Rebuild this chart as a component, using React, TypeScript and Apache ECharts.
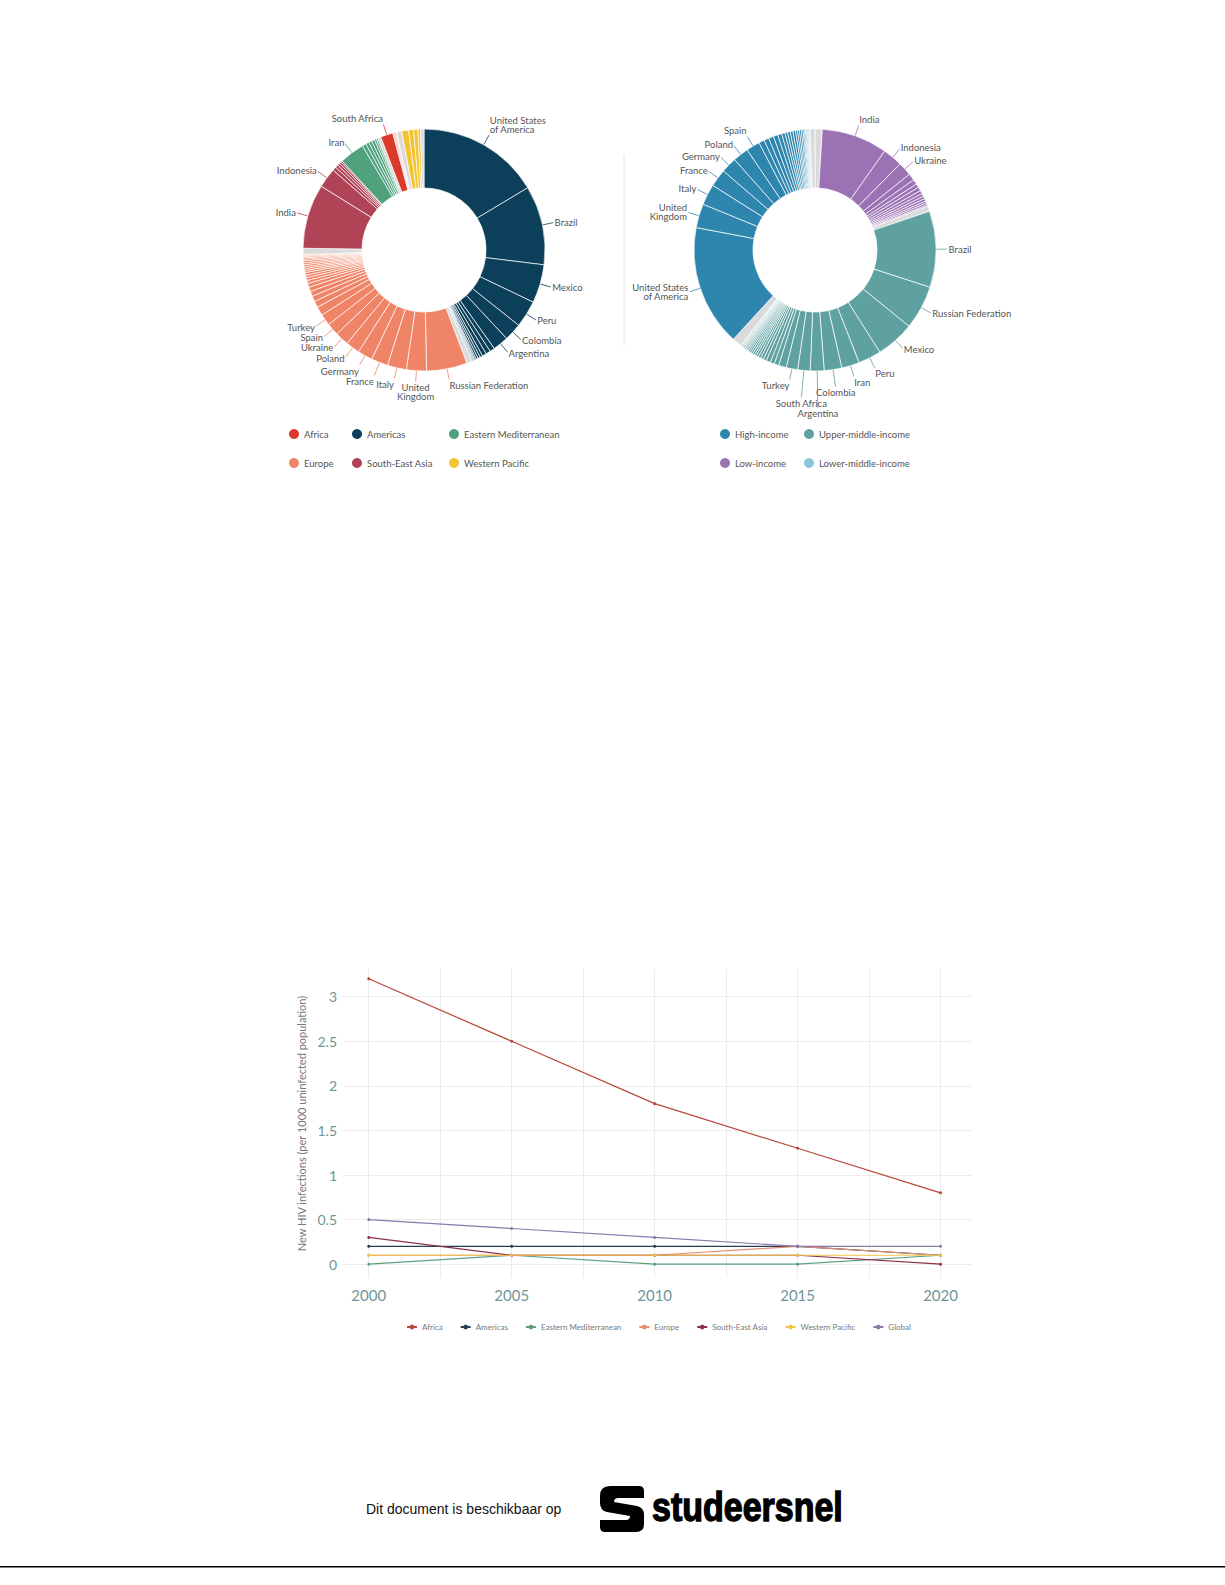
import React, { useEffect, useRef } from 'react';
import * as echarts from 'echarts';

// ---------- Line chart data ----------
const years = [2000, 2005, 2010, 2015, 2020];
const africaRate = [3.2, 2.5, 1.8, 1.3, 0.8];
const americasRate = [0.2, 0.2, 0.2, 0.2, 0.1];
const eastMedRate = [0.0, 0.1, 0.0, 0.0, 0.1];
const europeRate = [0.1, 0.1, 0.1, 0.2, 0.1];
const seAsiaRate = [0.3, 0.1, 0.1, 0.1, 0.0];
const westPacRate = [0.1, 0.1, 0.1, 0.1, 0.1];
const globalRate = [0.5, 0.4, 0.3, 0.2, 0.2];
const xLabelValues = [2000, 2005, 2010, 2015, 2020];
const xGridValues = [2000, 2002.5, 2005, 2007.5, 2010, 2012.5, 2015, 2017.5, 2020];
const yTickValues = [0, 0.5, 1, 1.5, 2, 2.5, 3];

const lineSeriesNames = ['Africa', 'Americas', 'Eastern Mediterranean', 'Europe', 'South-East Asia', 'Western Pacific', 'Global'];
const lineSeriesValues = [africaRate, americasRate, eastMedRate, europeRate, seAsiaRate, westPacRate, globalRate];
const lineColors = ['#b8473c', '#243c57', '#5c9f7c', '#e68d6f', '#8d3046', '#efc54c', '#8c78aa'];

// ---------- Left donut: by WHO region ----------
const regionColors: Record<string, string> = {
  'Africa': '#d93a2c',
  'Americas': '#0c3f59',
  'Eastern Mediterranean': '#4fa27d',
  'Europe': '#f08466',
  'South-East Asia': '#b04456',
  'Western Pacific': '#f3c332',
  'Other': '#dadada',
};

const leftCountries = [
  'United States of America', 'Brazil', 'Mexico', 'Peru', 'Colombia', 'Argentina', 'Chile', 'Canada', 'Ecuador', 'Bolivia', 'Paraguay', 'Guatemala', 'Honduras', 'Cuba', 'Costa Rica', 'Panama', 'Venezuela',
  'Other',
  'Russian Federation', 'United Kingdom', 'Italy', 'France', 'Germany', 'Poland', 'Ukraine', 'Spain', 'Turkey', 'Romania', 'Hungary', 'Czechia', 'Bulgaria', 'Belgium', 'Greece', 'Portugal', 'Netherlands', 'Kazakhstan', 'Slovakia', 'Sweden', 'Georgia', 'Serbia', 'Austria', 'Croatia', 'Bosnia and Herzegovina', 'Switzerland', 'Moldova', 'Israel', 'Lithuania', 'Belarus',
  'Other',
  'India', 'Indonesia', 'Bangladesh', 'Thailand', 'Myanmar', 'Sri Lanka', 'Nepal',
  'Iran', 'Pakistan', 'Tunisia', 'Iraq', 'Egypt', 'Morocco', 'Jordan',
  'Other',
  'South Africa', 'Ethiopia', 'Algeria', 'Kenya', 'Zimbabwe', 'Zambia',
  'Other',
  'Philippines', 'Vietnam', 'Malaysia', 'Japan',
  'Other',
];
const leftRegions = [
  ...Array(17).fill('Americas'),
  'Other',
  ...Array(30).fill('Europe'),
  'Other',
  ...Array(7).fill('South-East Asia'),
  ...Array(7).fill('Eastern Mediterranean'),
  'Other',
  ...Array(6).fill('Africa'),
  'Other',
  ...Array(4).fill('Western Pacific'),
  'Other',
];
const leftValues = [
  968, 623, 303, 213, 139, 123, 39, 36, 33, 21, 18, 16, 10, 8, 7, 7, 6,
  41,
  320, 158, 150, 132, 118, 110, 107, 98, 90, 70, 50, 44, 40, 35, 30, 24, 23, 20, 20, 16, 16, 15, 15, 15, 15, 13, 11, 10, 8, 7,
  49,
  508, 156, 30, 23, 20, 16, 11,
  197, 30, 26, 25, 23, 16, 13,
  25,
  98, 7, 7, 6, 6, 4,
  41,
  54, 39, 33, 21,
  27,
];
const leftLabeled = ['United States of America', 'Brazil', 'Mexico', 'Peru', 'Colombia', 'Argentina', 'Russian Federation', 'United Kingdom', 'Italy', 'France', 'Germany', 'Poland', 'Ukraine', 'Spain', 'Turkey', 'India', 'Indonesia', 'Iran', 'South Africa'];

// ---------- Right donut: by income group ----------
const incomeColors: Record<string, string> = {
  'High-income': '#2e86ae',
  'Upper-middle-income': '#5fa0a0',
  'Low-income': '#9b72b3',
  'Lower-middle-income': '#8ac6da',
  'Other': '#dadada',
};
const rightCountries = [
  'Other',
  'India', 'Indonesia', 'Ukraine', 'Philippines', 'Vietnam', 'Pakistan', 'Bangladesh', 'Tunisia', 'Egypt', 'Bolivia', 'Myanmar', 'Morocco', 'Sri Lanka', 'Nepal',
  'Other',
  'Brazil', 'Russian Federation', 'Mexico', 'Peru', 'Iran', 'Colombia', 'Argentina', 'South Africa', 'Turkey', 'Romania', 'Bulgaria', 'Ecuador', 'Malaysia', 'Iraq', 'Thailand', 'Kazakhstan', 'Paraguay', 'Guatemala', 'Georgia', 'Serbia', 'Bosnia and Herzegovina', 'Jordan', 'Moldova', 'Libya', 'Lebanon', 'Cuba', 'Algeria', 'Costa Rica', 'Belarus', 'Dominican Republic', 'Albania',
  'Other',
  'United States of America', 'United Kingdom', 'Italy', 'France', 'Germany', 'Poland', 'Spain', 'Hungary', 'Chile', 'Czechia', 'Canada', 'Belgium', 'Greece', 'Japan', 'Portugal', 'Netherlands', 'Slovakia', 'Sweden', 'Austria', 'Croatia', 'Switzerland', 'Israel', 'Lithuania', 'Panama', 'Uruguay', 'Slovenia', 'Ireland', 'Latvia', 'Denmark',
  'Other',
];
const rightGroups = [
  'Other',
  ...Array(14).fill('Low-income'),
  'Other',
  ...Array(31).fill('Upper-middle-income'),
  'Other',
  ...Array(29).fill('High-income'),
  'Other',
];
const rightValues = [
  57,
  517, 156, 107, 54, 39, 30, 30, 26, 23, 21, 20, 16, 16, 11,
  41,
  599, 344, 303, 180, 140, 138, 108, 98, 90, 61, 36, 33, 33, 25, 23, 20, 18, 16, 16, 15, 15, 13, 11, 10, 10, 8, 7, 7, 7, 5, 5,
  74,
  951, 189, 164, 139, 123, 123, 107, 44, 39, 39, 36, 31, 26, 21, 21, 21, 20, 16, 15, 15, 13, 10, 8, 7, 7, 6, 6, 5, 5,
  39,
];
const rightLabeled = ['India', 'Indonesia', 'Ukraine', 'Brazil', 'Russian Federation', 'Mexico', 'Peru', 'Iran', 'Colombia', 'Argentina', 'South Africa', 'Turkey', 'United States of America', 'United Kingdom', 'Italy', 'France', 'Germany', 'Poland', 'Spain'];

const labelText: Record<string, string> = {
  'United States of America': 'United States\nof America',
  'United Kingdom': 'United\nKingdom',
};

const LOGO_PATH =
  'M10 0 H39 Q44 0 44 5 V12 H18 Q14 12 14 16 L37 20 Q44 21.5 44 29 V38 Q44 46 36 46 H5 Q0 46 0 41 V34 H26 Q30 34 30 30 L7 26 Q0 24.5 0 17 V10 Q0 0 10 0 Z';

const FONT = 'Lato, "Noto Sans", sans-serif';
const LABEL_SIZE = 9.5;
const LABEL_LH = 9;
const R_IN = 62;
const R_OUT = 121;
const LINE_MIN = 11;

type LabelPos = { x: number; y: number; align: string; vAlign: string; points: number[][] };

// place the pie labels radially; labels that would collide are pushed further out
function computePieLabels(cx: number, cy: number, names: string[], groups: string[], values: number[], labeled: string[]) {
  const canvas = document.createElement('canvas');
  const ctx = canvas.getContext('2d')!;
  ctx.font = `${LABEL_SIZE}px Lato`;
  const total = values.reduce((a, b) => a + b, 0);
  let cum = 0;
  const items: { i: number; mid: number }[] = [];
  values.forEach((v, i) => {
    const mid = ((cum + v / 2) / total) * Math.PI * 2;
    cum += v;
    if (labeled.includes(names[i]) && groups[i] !== 'Other') items.push({ i, mid });
  });
  items.sort((a, b) => Math.abs(Math.sin(b.mid)) - Math.abs(Math.sin(a.mid)));
  const placed: number[][] = [];
  const out: Record<number, LabelPos> = {};
  for (const it of items) {
    const dx = Math.sin(it.mid);
    const dy = -Math.cos(it.mid);
    const text = labelText[names[it.i]] ?? names[it.i];
    const lines = text.split('\n');
    const w = Math.max(...lines.map((l) => ctx.measureText(l).width));
    const h = lines.length * LABEL_LH + 1;
    const align = dx > 0.15 ? 'left' : dx < -0.15 ? 'right' : 'center';
    const vAlign = dy > 0.85 ? 'top' : dy < -0.85 ? 'bottom' : 'middle';
    let res: LabelPos | null = null;
    let rect: number[] = [];
    for (let L = LINE_MIN; L <= 60; L += 1) {
      const ex = cx + (R_OUT + L) * dx;
      const ey = cy + (R_OUT + L) * dy;
      const ax = ex + dx * 1.5;
      const ay = ey + dy * 1.5;
      const left = align === 'left' ? ax : align === 'right' ? ax - w : ax - w / 2;
      const top = vAlign === 'top' ? ay : vAlign === 'bottom' ? ay - h : ay - h / 2;
      rect = [left, top, left + w, top + h];
      const hit = placed.some((p) => rect[0] < p[2] + 1 && rect[2] > p[0] - 1 && rect[1] < p[3] && rect[3] > p[1]);
      res = {
        x: ax,
        y: ay,
        align,
        vAlign,
        points: [
          [cx + R_OUT * dx, cy + R_OUT * dy],
          [ex, ey],
          [ex, ey],
        ],
      };
      if (!hit) break;
    }
    placed.push(rect);
    out[it.i] = res!;
  }
  return out;
}

function makePieData(names: string[], groups: string[], values: number[], colors: Record<string, string>, labeled: string[]) {
  return names.map((n, i) => {
    const show = labeled.includes(n) && groups[i] !== 'Other';
    return {
      name: n,
      value: values[i],
      itemStyle: { color: colors[groups[i]] },
      label: { show },
      labelLine: { show },
    };
  });
}

function pieSeries(center: number[], data: any[], layout: Record<number, LabelPos>) {
  return {
    type: 'pie',
    center,
    radius: [R_IN, R_OUT],
    startAngle: 90,
    clockwise: true,
    silent: true,
    avoidLabelOverlap: false,
    minShowLabelAngle: 0,
    itemStyle: { borderColor: '#ffffff', borderWidth: 0.7 },
    label: {
      color: '#555',
      fontSize: LABEL_SIZE,
      fontFamily: FONT,
      lineHeight: LABEL_LH,
      formatter: (p: any) => labelText[p.name] ?? p.name,
    },
    labelLine: { length: 9, length2: 0, lineStyle: { width: 0.8 } },
    labelLayout: (params: any) => {
      const p = layout[params.dataIndex];
      if (!p) return {};
      return { x: p.x, y: p.y, align: p.align, verticalAlign: p.vAlign, labelLinePoints: p.points };
    },
    emphasis: { disabled: true },
    data,
  };
}

function circleLegend(names: string[], colors: Record<string, string>, left: number) {
  return {
    orient: 'vertical',
    left,
    top: 428,
    padding: 0,
    itemGap: 17,
    itemWidth: 10,
    itemHeight: 10,
    selectedMode: false,
    icon: 'circle',
    textStyle: { fontSize: 9.5, color: '#555', fontFamily: FONT, lineHeight: 12 },
    data: names.map((n) => ({ name: n, icon: 'circle', itemStyle: { color: colors[n] } })),
  };
}

export default function App() {
  const ref = useRef<HTMLDivElement>(null);

  useEffect(() => {
    if (!ref.current) return;
    echarts.graphic.registerShape('studeersnelLogo', echarts.graphic.extendPath(LOGO_PATH, {}) as any);
    const chart = echarts.init(ref.current, null, { renderer: 'svg' });

    const leftLayout = computePieLabels(424, 250, leftCountries, leftRegions, leftValues, leftLabeled);
    const rightLayout = computePieLabels(815, 250, rightCountries, rightGroups, rightValues, rightLabeled);

    const lineSeries = lineSeriesNames.map((name, k) => ({
      type: 'line',
      name,
      data: years.map((y, i) => [y, lineSeriesValues[k][i]]),
      symbol: 'circle',
      symbolSize: 3,
      showSymbol: true,
      lineStyle: { width: 1.2, color: lineColors[k] },
      itemStyle: { color: lineColors[k] },
      emphasis: { disabled: true },
      silent: true,
      z: 3 + k,
    }));

    // empty series that only give names to the income-group legend
    const incomeLegendSeries = ['High-income', 'Upper-middle-income', 'Low-income', 'Lower-middle-income'].map((name) => ({
      type: 'line',
      name,
      data: [],
      silent: true,
    }));

    const option: any = {
      animation: false,
      backgroundColor: '#ffffff',
      legend: [
        circleLegend(['Africa', 'Europe'], regionColors, 289),
        circleLegend(['Americas', 'South-East Asia'], regionColors, 352),
        circleLegend(['Eastern Mediterranean', 'Western Pacific'], regionColors, 449),
        circleLegend(['High-income', 'Low-income'], incomeColors, 720),
        circleLegend(['Upper-middle-income', 'Lower-middle-income'], incomeColors, 804),
        {
          orient: 'horizontal',
          left: 406,
          top: 1323,
          padding: 0,
          itemGap: 17,
          itemWidth: 10,
          itemHeight: 6,
          selectedMode: false,
          textStyle: { fontSize: 8, color: '#777', fontFamily: FONT },
          data: lineSeriesNames,
        },
      ],
      grid: {
        left: 343,
        right: 253,
        top: 969,
        bottom: 307,
        outerBoundsMode: 'none',
        containLabel: false,
      },
      xAxis: {
        type: 'value',
        min: 1999.1,
        max: 2021.1,
        axisLine: { show: false },
        axisTick: { show: false, customValues: xGridValues },
        axisLabel: {
          customValues: xLabelValues,
          formatter: (v: number) => String(v),
          color: '#6f9696',
          fontSize: 15,
          fontFamily: FONT,
          margin: 9,
        },
        splitLine: { show: true, lineStyle: { color: '#ececec', width: 1 } },
      },
      yAxis: {
        type: 'value',
        min: -0.155,
        max: 3.31,
        name: 'New HIV infections (per 1000 uninfected population)',
        nameLocation: 'middle',
        nameGap: 32,
        nameRotate: 90,
        nameTextStyle: { fontSize: 11, color: '#777', fontFamily: FONT },
        axisLine: { show: false },
        axisTick: { show: false, customValues: yTickValues },
        axisLabel: {
          customValues: yTickValues,
          formatter: (v: number) => String(v),
          color: '#6f9696',
          fontSize: 14,
          fontFamily: FONT,
          margin: 6,
        },
        splitLine: { show: true, lineStyle: { color: '#ececec', width: 1 } },
      },
      series: [
        pieSeries([424, 250], makePieData(leftCountries, leftRegions, leftValues, regionColors, leftLabeled), leftLayout),
        pieSeries([815, 250], makePieData(rightCountries, rightGroups, rightValues, incomeColors, rightLabeled), rightLayout),
        ...lineSeries,
        ...incomeLegendSeries,
      ],
      graphic: [
        { type: 'line', shape: { x1: 624, y1: 155, x2: 624, y2: 346 }, style: { stroke: '#e4e4e4', lineWidth: 1 }, silent: true },
        {
          type: 'text', x: 366, y: 1509,
          style: { text: 'Dit document is beschikbaar op', fontSize: 14, fontFamily: '"Liberation Sans", Arial, sans-serif', fill: '#111', verticalAlign: 'middle' },
          silent: true,
        },
        { type: 'studeersnelLogo', x: 600, y: 1486, style: { fill: '#000' }, silent: true },
        {
          type: 'text', x: 652, y: 1507, scaleX: 0.85,
          style: { text: 'studeersnel', fontSize: 40, fontWeight: 'bold', fontFamily: '"Liberation Sans", Arial, sans-serif', fill: '#000', stroke: '#000', lineWidth: 1.4, verticalAlign: 'middle' },
          silent: true,
        },
        { type: 'rect', shape: { x: 0, y: 1566, width: 1225, height: 1.5 }, style: { fill: '#000' }, silent: true },
      ],
    };

    chart.setOption(option);
    return () => chart.dispose();
  }, []);

  return (
    <div
      ref={ref}
      style={{ position: 'absolute', left: 0, top: 0, width: 1225, height: 1585, background: '#fff' }}
    />
  );
}
